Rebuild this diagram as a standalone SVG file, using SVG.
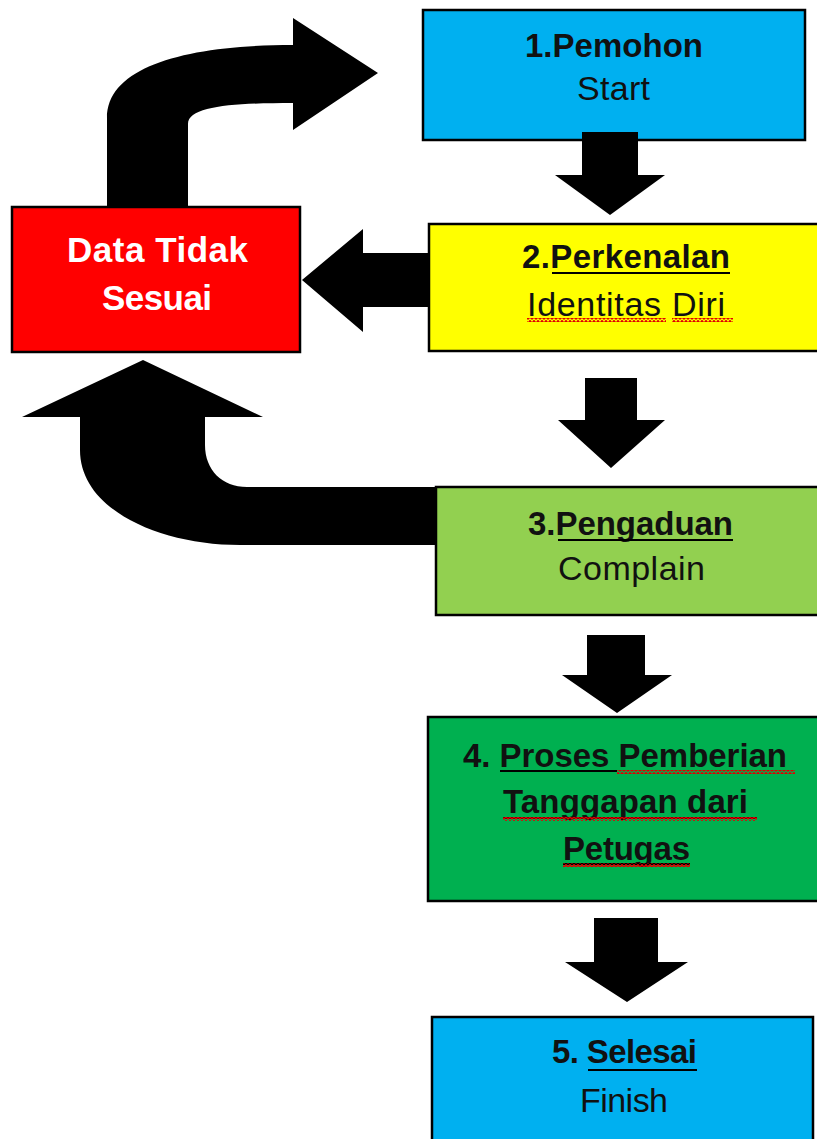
<svg xmlns="http://www.w3.org/2000/svg" width="817" height="1139" viewBox="0 0 817 1139">
<style>
.box{stroke:#000;stroke-width:2.5}
.t{font-family:"Liberation Sans",Arial,sans-serif;font-size:34px;fill:#111;text-anchor:start}
.b{font-weight:bold;font-size:33px}
.w{fill:#fff;font-size:35px}
.ul{stroke:#000;stroke-width:2}
.arr{fill:#000}
</style>
<defs>
<pattern id="wavy" patternUnits="userSpaceOnUse" width="4" height="4">
<path d="M0 3.3 L2 0.7 L4 3.3" fill="none" stroke="#e00000" stroke-width="1.5"/>
</pattern>
</defs>
<rect width="817" height="1139" fill="#fff"/>
<g id="node-pemohon">
<rect class="box" x="423" y="10" width="382" height="130" fill="#00B0F0"/>
<text class="t b" x="525" y="57" textLength="178">1.Pemohon</text>
<text class="t" x="577" y="100" textLength="73">Start</text>
</g>
<g id="node-perkenalan">
<rect class="box" x="429" y="224" width="400" height="127" fill="#FFFF00"/>
<text class="t b" x="522" y="268" textLength="208">2.Perkenalan</text>
<line class="ul" x1="552" y1="273" x2="730" y2="273"/>
<text class="t" x="527" y="316" textLength="198">Identitas Diri</text>
<rect x="527" y="318" width="139" height="4" fill="url(#wavy)"/>
<rect x="672" y="318" width="61" height="4" fill="url(#wavy)"/>
</g>
<g id="node-data-tidak-sesuai">
<rect class="box" x="12" y="207" width="288" height="145" fill="#FF0000"/>
<text class="t b w" x="67" y="262" textLength="181">Data Tidak</text>
<text class="t b w" x="102" y="310" textLength="110">Sesuai</text>
</g>
<g id="node-pengaduan">
<rect class="box" x="436" y="487" width="400" height="128" fill="#92D050"/>
<text class="t b" x="528" y="535" textLength="205">3.Pengaduan</text>
<line class="ul" x1="558" y1="540" x2="733" y2="540"/>
<text class="t" x="558" y="580" textLength="147">Complain</text>
</g>
<g id="node-proses">
<rect class="box" x="428" y="717" width="400" height="184" fill="#00B050"/>
<text class="t b" x="463" y="767" textLength="324">4. Proses Pemberian</text>
<line class="ul" x1="500" y1="771" x2="617" y2="771"/>
<rect x="617" y="770" width="178" height="4" fill="url(#wavy)"/>
<text class="t b" x="503" y="813" textLength="245">Tanggapan dari</text>
<line class="ul" x1="503" y1="818" x2="757" y2="818"/>
<rect x="503" y="817" width="254" height="4" fill="url(#wavy)"/>
<text class="t b" x="563" y="860" textLength="127">Petugas</text>
<line class="ul" x1="563" y1="864" x2="690" y2="864"/>
<rect x="563" y="863" width="127" height="4" fill="url(#wavy)"/>
</g>
<g id="node-selesai">
<rect class="box" x="432" y="1017" width="381" height="140" fill="#00B0F0"/>
<text class="t b" x="552" y="1063" textLength="145">5. Selesai</text>
<line class="ul" x1="588" y1="1070" x2="697" y2="1070"/>
<text class="t" x="580" y="1112" textLength="88">Finish</text>
</g>
<g id="connectors">
<path class="arr" d="M582 132 H638 V175 H665 L610 215 L555 175 H582 Z"/>
<path class="arr" d="M585 378 H637 V420 H665 L611 468 L558 420 H585 Z"/>
<path class="arr" d="M587 635 H645 V675 H672 L617 713 L562 675 H587 Z"/>
<path class="arr" d="M594 918 H658 V962 H688 L627 1002 L565 962 H594 Z"/>
<path class="arr" d="M430 253 V307 H363 V332 L302 280 L363 229 V253 Z"/>
<path class="arr" d="M107 207 L107 118 C107 65 190 45 293 45 L293 18 L378 73 L293 130 L293 103 C235 103 188 106 188 124 L188 207 Z"/>
<path class="arr" d="M436 487 L247 487 C222 487 205 470 205 445 L205 417 L263 417 L143 360 L22 417 L80 417 L80 450 C80 510 160 545 240 545 L436 545 Z"/>
</g>
</svg>
